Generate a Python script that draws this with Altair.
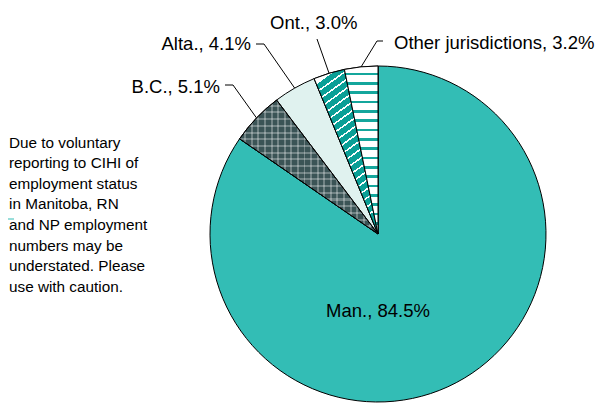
import altair as alt
import pandas as pd

# ---- data ----
categories = ["Man.", "B.C.", "Alta.", "Ont.", "Other jurisdictions"]
values = [84.5, 5.1, 4.1, 3.0, 3.2]
labels = ["Man., 84.5%", "B.C., 5.1%", "Alta., 4.1%", "Ont., 3.0%", "Other jurisdictions, 3.2%"]
note_lines = [
    "Due to voluntary",
    "reporting to CIHI of",
    "employment status",
    "in Manitoba, RN",
    "and NP employment",
    "numbers may be",
    "understated. Please",
    "use with caution.",
]

# ---- styles / layout (pixels relative to pie centre, y up) ----
colors = ["#33bdb5", "#3b5456", "#e0f2ef", "#0a9f96", "#ffffff"]
R = 168
label_x = [0, -158, -127, -108, 16]
label_y = [-83, 141, 184, 205.5, 185]
label_align = ["center", "right", "right", "left", "left"]
elbow_x = [None, -145, -114, -61, -1]
elbow_y = [None, 149, 190, 195, 193]
end_x = [None, -153, -122, -61, 5]
end_y = [None, 149, 190, 195, 193]
FONT = "Liberation Sans, Arial"

df = pd.DataFrame({
    "cat": categories, "value": values, "label": labels, "order": list(range(len(values))),
    "tx": label_x, "ty": label_y, "align": label_align,
    "ex": elbow_x, "ey": elbow_y, "lx": end_x, "ly": end_y,
})

xs = alt.Scale(domain=[-370, 225])
ys = alt.Scale(domain=[-173, 226])
X0 = alt.X(datum=0, type="quantitative", scale=xs, axis=None)
Y0 = alt.Y(datum=0, type="quantitative", scale=ys, axis=None)


def stripes(n, frac, bg, line, x1, y1, x2, y2):
    stops = []
    for i in range(n):
        a = i / n
        b = (i + 1 - frac) / n
        c = (i + 1) / n
        stops += [{"offset": a, "color": bg}, {"offset": b, "color": bg},
                  {"offset": b, "color": line}, {"offset": c, "color": line}]
    return {"gradient": "linear", "stops": stops, "x1": x1, "y1": y1, "x2": x2, "y2": y2}


base = (
    alt.Chart(df)
    .transform_joinaggregate(total="sum(value)")
    .transform_window(cum="sum(value)", sort=[alt.SortField("order")], frame=[None, 0])
    .transform_calculate(
        t0="(datum.cum - datum.value) / datum.total",
        t1="datum.cum / datum.total",
        mid="(datum.cum - datum.value / 2) / datum.total * 2 * PI",
    )
    .transform_calculate(ax=f"{R} * sin(datum.mid)", ay=f"{R} * cos(datum.mid)")
)

theta = alt.Theta("t0:Q", scale=alt.Scale(domain=[0, 1]))

pie = base.mark_arc(outerRadius=R, stroke="black", strokeWidth=1).encode(
    theta=theta, theta2="t1:Q",
    fill=alt.Fill("cat:N", scale=alt.Scale(domain=categories, range=colors), legend=None),
    x=X0, y=Y0,
)

def overlay(cat, fill, stroke=None):
    kw = dict(outerRadius=R, fill=fill)
    if stroke:
        kw.update(stroke=stroke, strokeWidth=1)
    else:
        kw.update(strokeWidth=0)
    return base.transform_filter(alt.datum.cat == cat).mark_arc(**kw).encode(
        theta=theta, theta2="t1:Q", x=X0, y=Y0)

bc_h = overlay("B.C.", stripes(20, 0.3, "rgba(255,255,255,0)", "rgba(255,255,255,0.28)", 0, 0, 0, 1))
bc_v = overlay("B.C.", stripes(21, 0.3, "rgba(255,255,255,0)", "rgba(255,255,255,0.28)", 0, 0, 1, 0), "black")
ont = overlay("Ont.", stripes(20, 0.22, "#0a9f96", "#ffffff", 0.6, 1, 0.32, 0), "black")
oth = overlay("Other jurisdictions", stripes(18, 0.3, "#ffffff", "#14a69c", 0, 0, 0, 1), "black")

leaders = base.transform_filter("datum.ex != null")
lead1 = leaders.mark_rule(color="black", strokeWidth=1).encode(
    x=alt.X("ax:Q", scale=xs, axis=None), y=alt.Y("ay:Q", scale=ys, axis=None),
    x2="ex:Q", y2="ey:Q")
lead2 = leaders.mark_rule(color="black", strokeWidth=1).encode(
    x=alt.X("ex:Q", scale=xs, axis=None), y=alt.Y("ey:Q", scale=ys, axis=None),
    x2="lx:Q", y2="ly:Q")

def texts(align):
    return base.transform_filter(alt.datum.align == align).mark_text(
        align=align, baseline="alphabetic", font=FONT, fontSize=18.5, color="black"
    ).encode(x=alt.X("tx:Q", scale=xs, axis=None), y=alt.Y("ty:Q", scale=ys, axis=None), text="label:N")

note = alt.Chart(pd.DataFrame({"k": [0]})).mark_text(
    text=note_lines, align="left", baseline="alphabetic", font=FONT, fontSize=15.3,
    lineHeight=20.6, color="black",
).encode(x=alt.value(1), y=alt.value(139.7))

dash = alt.Chart(pd.DataFrame({"k": [0]})).mark_rule(color="#33bdb5", strokeWidth=1).encode(
    x=alt.value(0), x2=alt.value(6), y=alt.value(211))

chart = alt.layer(
    pie, bc_h, bc_v, ont, oth, lead1, lead2,
    texts("center"), texts("right"), texts("left"), note, dash,
).properties(width=595, height=399, padding=0, autosize="none").configure_view(stroke=None)

chart.save("out.html", embed_options={"renderer": "svg", "actions": False})
